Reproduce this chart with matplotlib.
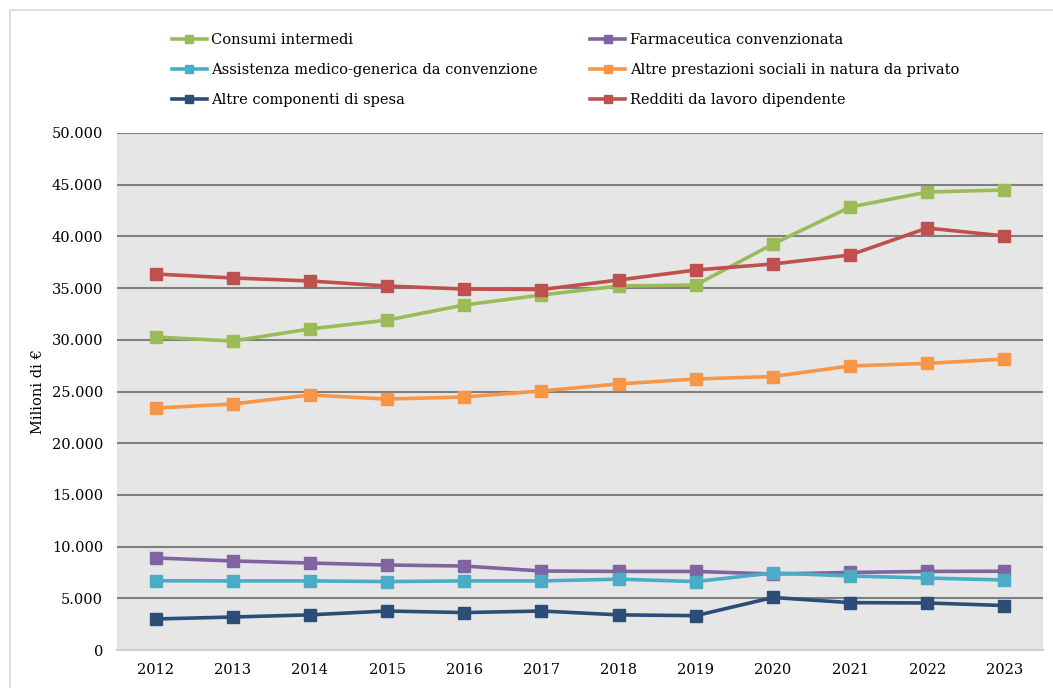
import matplotlib
matplotlib.use('Agg')
import matplotlib.pyplot as plt
from matplotlib.patches import Rectangle
from matplotlib.ticker import FuncFormatter

anni = ['2012', '2013', '2014', '2015', '2016', '2017', '2018', '2019', '2020', '2021', '2022', '2023']

consumi_intermedi = [30270, 29880, 31050, 31900, 33370, 34330, 35200, 35300, 39260, 42840, 44290, 44490]
redditi_lavoro = [36360, 35980, 35690, 35200, 34910, 34860, 35780, 36750, 37330, 38200, 40810, 40040]
altre_prestazioni = [23400, 23790, 24660, 24270, 24470, 25050, 25730, 26210, 26450, 27470, 27720, 28140]
farmaceutica = [8900, 8610, 8410, 8220, 8120, 7640, 7600, 7600, 7350, 7500, 7600, 7620]
assistenza = [6700, 6680, 6680, 6620, 6680, 6680, 6850, 6620, 7450, 7160, 6960, 6770]
altre_componenti = [3000, 3190, 3400, 3770, 3620, 3770, 3400, 3320, 5080, 4580, 4550, 4300]

serie = [
    ('Consumi intermedi', consumi_intermedi, '#9BBB59'),
    ('Farmaceutica convenzionata', farmaceutica, '#8064A2'),
    ('Assistenza medico-generica da convenzione', assistenza, '#4BACC6'),
    ('Altre prestazioni sociali in natura da privato', altre_prestazioni, '#F79646'),
    ('Altre componenti di spesa', altre_componenti, '#2C4D75'),
    ('Redditi da lavoro dipendente', redditi_lavoro, '#C0504D'),
]

plt.rcParams['font.family'] = ['DejaVu Serif']

fig = plt.figure(figsize=(10.53, 6.88), dpi=100)
fig.patches.append(Rectangle((10 / 1053, -0.01), 1.1, 1 - 10 / 688 + 0.01, transform=fig.transFigure,
                             fill=False, edgecolor='#d9d9d9', linewidth=1.2))

ax = fig.add_axes([117 / 1053, 1 - 650 / 688, (1043 - 117) / 1053, (650 - 133) / 688])
ax.set_facecolor('#e6e6e6')

x = range(len(anni))
handles = {}
for nome, valori, colore in serie:
    h, = ax.plot(x, valori, color=colore, linewidth=2.6, marker='s', markersize=8.5,
                 label=nome, solid_joinstyle='round')
    handles[nome] = h

ax.set_xlim(-0.5, len(anni) - 0.5)
ax.set_ylim(0, 50000)
ax.set_yticks(range(0, 50001, 5000))
ax.yaxis.set_major_formatter(FuncFormatter(lambda v, p: f'{int(v):,}'.replace(',', '.')))
ax.set_xticks(list(x))
ax.set_xticklabels(anni)
ax.grid(axis='y', color='#7f7f7f', linewidth=1.5)
ax.set_axisbelow(True)
for s in ['top', 'right', 'left']:
    ax.spines[s].set_visible(False)
ax.spines['bottom'].set_color('#d0d0d0')
ax.spines['bottom'].set_linewidth(1.5)
ax.tick_params(axis='y', length=0, labelsize=10.5, pad=10)
ax.tick_params(axis='x', length=0, labelsize=10.5, pad=9)
ax.set_ylabel('Milioni di €', fontsize=10.5, labelpad=5)

ordine = ['Consumi intermedi', 'Assistenza medico-generica da convenzione', 'Altre componenti di spesa',
          'Farmaceutica convenzionata', 'Altre prestazioni sociali in natura da privato',
          'Redditi da lavoro dipendente']
leg = fig.legend([handles[n] for n in ordine], ordine, ncol=2, loc='upper left',
                 bbox_to_anchor=(166 / 1053, 1 - 27 / 688), frameon=False, fontsize=10.5,
                 handlelength=2.4, handletextpad=0.3, columnspacing=3.6, labelspacing=1.1,
                 borderaxespad=0, markerscale=0.75)

plt.savefig('out.png', dpi=100)
